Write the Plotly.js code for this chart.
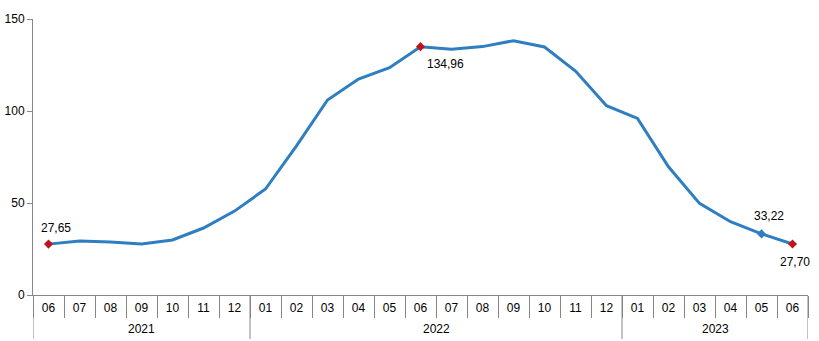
<!DOCTYPE html>
<html>
<head>
<meta charset="utf-8">
<script src="https://cdn.plot.ly/plotly-3.0.1.min.js"></script>
<style>html,body{margin:0;padding:0;background:#fff;}#chart{width:819px;height:341px;}</style>
</head>
<body>
<div id="chart"></div>
<script>
const years = ["2021","2021","2021","2021","2021","2021","2021",
  "2022","2022","2022","2022","2022","2022","2022","2022","2022","2022","2022","2022",
  "2023","2023","2023","2023","2023","2023"];
const months = ["06","07","08","09","10","11","12",
  "01","02","03","04","05","06","07","08","09","10","11","12",
  "01","02","03","04","05","06"];
const values = [27.65,29.3,28.8,27.7,29.9,36.4,45.6,
  57.6,81.0,106.0,117.4,123.5,134.96,133.5,135.0,138.2,134.8,121.7,102.9,
  96.0,69.7,49.8,39.8,33.22,27.70];

const redIdx = [0, 12, 24];
const blueIdx = [23];
const labelIdx = [0, 12, 23, 24];
const labelText = ["27,65", "134,96", "33,22", "27,70"];

const lineColor = "#2E7EC1";
const redColor = "#C0141B";
const axisColor = "#868686";
const fontFam = "Liberation Sans, Arial, sans-serif";

const cats = years.map((y, i) => y + "-" + months[i]);

const traces = [
  {
    type: "scatter", mode: "lines",
    x: cats, y: values,
    line: {color: lineColor, width: 3},
    hoverinfo: "skip", showlegend: false
  },
  {
    type: "scatter", mode: "markers",
    x: blueIdx.map(i => cats[i]), y: blueIdx.map(i => values[i]),
    marker: {symbol: "diamond", size: 7, color: lineColor},
    showlegend: false, cliponaxis: false
  },
  {
    type: "scatter", mode: "markers",
    x: redIdx.map(i => cats[i]), y: redIdx.map(i => values[i]),
    marker: {symbol: "diamond", size: 7, color: redColor},
    showlegend: false, cliponaxis: false
  }
];

// label offsets (pixels) relative to their point
const labelShift = [[7, 16], [25, -17], [7, 18], [2, -18]];
const annotations = labelIdx.map((i, k) => ({
  x: cats[i], y: values[i], xref: "x", yref: "y",
  text: labelText[k], showarrow: false,
  xshift: labelShift[k][0], yshift: labelShift[k][1],
  font: {family: fontFam, size: 12, color: "#000"}
}));

// year groups
const groups = [];
years.forEach((y, i) => {
  if (!groups.length || groups[groups.length - 1].year !== y) groups.push({year: y, start: i, end: i});
  else groups[groups.length - 1].end = i;
});
const bottomY = -44 / 276;
groups.forEach(g => annotations.push({
  x: (g.start + g.end) / 2, xref: "x", y: bottomY, yref: "paper",
  text: g.year, showarrow: false, yanchor: "bottom", yshift: 1,
  font: {family: fontFam, size: 12, color: "#000"}
}));
const shapes = [];
groups.forEach(g => {
  shapes.push({type: "line", xref: "x", yref: "paper", x0: g.start - 0.5, x1: g.start - 0.5, y0: 0, y1: bottomY,
    line: {color: axisColor, width: 1}});
});
const lastG = groups[groups.length - 1];
shapes.push({type: "line", xref: "x", yref: "paper", x0: lastG.end + 0.5, x1: lastG.end + 0.5, y0: 0, y1: bottomY,
  line: {color: axisColor, width: 1}});

const layout = {
  width: 819, height: 341,
  margin: {l: 33, r: 11, t: 19, b: 46},
  paper_bgcolor: "#fff", plot_bgcolor: "#fff",
  font: {family: fontFam, size: 12, color: "#000"},
  xaxis: {
    type: "category", range: [-0.5, cats.length - 0.5],
    tickvals: cats, ticktext: months, tickson: "boundaries",
    showline: true, linecolor: axisColor, linewidth: 1,
    ticks: "outside", ticklen: 22, tickcolor: axisColor,
    ticklabelstandoff: 2,
    showgrid: false, zeroline: false,
    tickfont: {size: 12, color: "#000"}
  },
  yaxis: {
    range: [0, 150], tickvals: [0, 50, 100, 150],
    showline: true, linecolor: axisColor, linewidth: 1,
    ticks: "outside", ticklen: 5, tickcolor: axisColor,
    showgrid: false, zeroline: false,
    tickfont: {size: 12, color: "#000"}
  },
  annotations: annotations,
  shapes: shapes
};

Plotly.newPlot("chart", traces, layout, {staticPlot: true, displayModeBar: false});
</script>
</body>
</html>
